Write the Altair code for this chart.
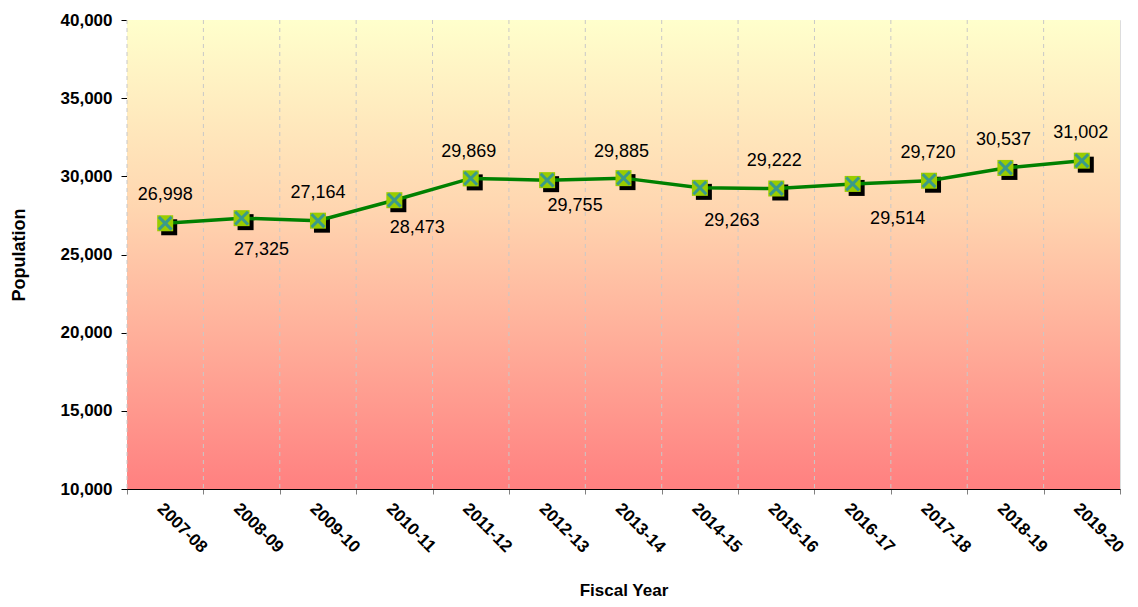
import altair as alt
import pandas as pd

years = ["2007-08", "2008-09", "2009-10", "2010-11", "2011-12", "2012-13", "2013-14",
         "2014-15", "2015-16", "2016-17", "2017-18", "2018-19", "2019-20"]
population = [26998, 27325, 27164, 28473, 29869, 29755, 29885,
              29263, 29222, 29514, 29720, 30537, 31002]
y_ticks = [10000, 15000, 20000, 25000, 30000, 35000, 40000]

# label nudges (pixels) for the value annotations
label_dx = [0, 20, 0, 23, -2, 28, -2, 32, -2, 45, -1, -2, -1]
label_dy = [-28, 32, -28, 28, -26, 26, -26, 33, -27, 35, -28, -28, -28]

df = pd.DataFrame({"year": years, "pop": population, "ldx": label_dx, "ldy": label_dy})

FONT = "Liberation Sans"
W, H = 993, 469

xscale = alt.Scale(domain=years, paddingInner=0, paddingOuter=0)
x = alt.X("year:N", sort=years, scale=xscale,
          axis=alt.Axis(title="Fiscal Year", tickBand="extent", grid=False,
                        labelAngle=45, labelAlign="left", labelBaseline="top",
                        labelFont=FONT, labelFontSize=17, labelFontWeight="bold",
                        labelColor="black", labelPadding=6,
                        tickColor="#808080", tickSize=5, domainColor="black",
                        titleFont=FONT, titleFontSize=17, titleFontWeight="bold",
                        titleColor="black", titlePadding=27))
y = alt.Y("pop:Q", scale=alt.Scale(domain=[10000, 40000], nice=False, zero=False),
          axis=alt.Axis(title="Population", values=y_ticks, format=",d", grid=False,
                        labelFont=FONT, labelFontSize=17, labelFontWeight="bold",
                        labelColor="black", labelPadding=9,
                        tickColor="black", tickSize=6, domainColor="black",
                        titleFont=FONT, titleFontSize=18, titleFontWeight="bold",
                        titleColor="black", titlePadding=32))

bg = alt.Chart(df).mark_rect(
    color=alt.LinearGradient(gradient="linear", x1=0, y1=0, x2=0, y2=1,
                             stops=[alt.GradientStop(offset=0, color="#FFFFCC"),
                                    alt.GradientStop(offset=0.4, color="#FFD6B0"),
                                    alt.GradientStop(offset=1, color="#FF8080")])
).encode(x=alt.value(0), x2=alt.value(W), y=alt.value(0), y2=alt.value(H))

grid = alt.Chart(df).mark_rule(color="#c8c8c8", strokeDash=[4, 4], strokeWidth=1).encode(
    x=alt.X("year:N", sort=years, scale=xscale, bandPosition=0),
    y=alt.value(0), y2=alt.value(H))

base = alt.Chart(df).encode(x=x, y=y)

shadow = base.mark_point(shape="square", filled=True, color="black", size=256,
                         opacity=1, xOffset=4, yOffset=4)
line = base.mark_line(color="#008000", strokeWidth=3.5)
square = base.mark_point(shape="square", filled=True, color="#99CC00", size=256, opacity=1)
cross = base.mark_point(shape="M-0.8,-0.8L0.8,0.8M0.8,-0.8L-0.8,0.8", filled=False,
                        color="#3A9A8A", strokeWidth=3, size=256, opacity=1)
labels = base.mark_text(font=FONT, fontSize=18, color="black", baseline="middle",
                        align="center",
                        dx=alt.ExprRef(expr="datum.ldx"),
                        dy=alt.ExprRef(expr="datum.ldy")).encode(text=alt.Text("pop:Q", format=",d"))

chart = alt.layer(bg, grid, shadow, line, square, cross, labels).properties(
    width=W, height=H,
    autosize=alt.AutoSizeParams(type="none"),
    padding={"left": 119, "top": 12, "right": 8, "bottom": 113},
).configure_view(stroke=None).configure(background="white")

chart.save("out.html", embed_options={"renderer": "svg", "actions": False})
